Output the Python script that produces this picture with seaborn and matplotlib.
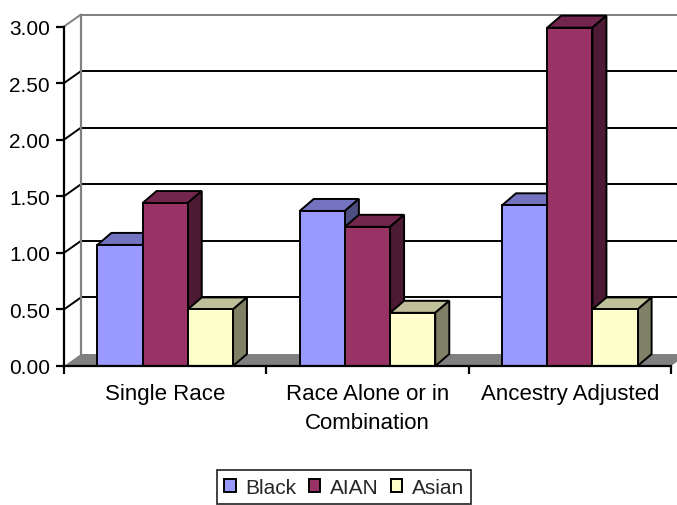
import numpy as np
import pandas as pd
import matplotlib
matplotlib.use("Agg")
import matplotlib.pyplot as plt
from matplotlib.patches import Polygon
from matplotlib.colors import to_rgb
import seaborn as sns

# ---- data -------------------------------------------------------------
categories = ["Single Race", "Race Alone or in Combination", "Ancestry Adjusted"]
tick_labels = ["Single Race", "Race Alone or in\nCombination", "Ancestry Adjusted"]
groups = ["Black", "AIAN", "Asian"]
black = [1.07, 1.37, 1.42]
aian = [1.44, 1.23, 2.99]
asian = [0.50, 0.47, 0.50]
y_ticks = [0.0, 0.5, 1.0, 1.5, 2.0, 2.5, 3.0]

palette = {"Black": "#9999FF", "AIAN": "#993366", "Asian": "#FFFFCC"}

df = pd.DataFrame({
    "Measure": np.repeat(categories, len(groups)),
    "Group": groups * len(categories),
    "Ratio": np.column_stack([black, aian, asian]).ravel(),
})

# ---- figure -----------------------------------------------------------
sns.set_theme(style="white")
plt.rcParams["font.family"] = ["Liberation Sans", "DejaVu Sans"]
FS = 15
FS_CAT = 16

W, H = 677, 506
fig = plt.figure(figsize=(W / 100, H / 100), dpi=100)
ax = fig.add_axes([64 / W, 1 - 367 / H, 607 / W, 339.5 / H])

sns.barplot(data=df, x="Measure", y="Ratio", hue="Group", order=categories,
            hue_order=groups, palette=palette, width=0.67, saturation=1,
            edgecolor="black", linewidth=1.4, ax=ax)

ax.set_xlim(-0.5, 2.5)
ax.set_ylim(0, 3.0)
ax.set_xlabel("")
ax.set_ylabel("")

# pixel -> data conversion for the oblique depth offsets
px_x = 607 / 3.0
px_y = 339.5 / 3.0
wall_dx, wall_dy = 17 / px_x, 12 / px_y
bar_dx, bar_dy = 14 / px_x, 12 / px_y

# floor
floor = Polygon([(-0.5, 0), (2.5, 0), (2.5 + wall_dx, wall_dy), (-0.5 + wall_dx, wall_dy)],
                closed=True, facecolor="#808080", edgecolor="none", zorder=1, clip_on=False)
ax.add_patch(floor)

# back-wall gridlines and side-wall diagonals
for v in y_ticks[1:]:
    col = "#808080" if v == y_ticks[-1] else "black"
    ax.plot([-0.5 + wall_dx, 2.5 + wall_dx], [v + wall_dy, v + wall_dy],
            color=col, lw=1.4, zorder=2, clip_on=False, solid_capstyle="butt")
    ax.plot([-0.5, -0.5 + wall_dx], [v, v + wall_dy],
            color=col, lw=1.4, zorder=2, clip_on=False)
# left wall back edge
ax.plot([-0.5 + wall_dx, -0.5 + wall_dx], [wall_dy, 3.0 + wall_dy],
        color="#808080", lw=1.6, zorder=2, clip_on=False)

# oblique top and side faces for every bar
bars = [p for c in ax.containers for p in c]
bars.sort(key=lambda p: p.get_x())
for i, p in enumerate(bars):
    x0, w, h = p.get_x(), p.get_width(), p.get_height()
    rgb = np.array(to_rgb(p.get_facecolor()))
    base = 10 + 3 * i
    top = Polygon([(x0, h), (x0 + w, h), (x0 + w + bar_dx, h + bar_dy), (x0 + bar_dx, h + bar_dy)],
                  closed=True, facecolor=rgb * 0.75, edgecolor="black", lw=1.4,
                  zorder=base, clip_on=False, joinstyle="miter")
    side = Polygon([(x0 + w, 0), (x0 + w, h), (x0 + w + bar_dx, h + bar_dy), (x0 + w + bar_dx, bar_dy)],
                   closed=True, facecolor=rgb * 0.5, edgecolor="black", lw=1.4,
                   zorder=base + 1, clip_on=False, joinstyle="miter")
    ax.add_patch(top)
    ax.add_patch(side)
    p.set_zorder(base + 2)
    p.set_clip_on(False)

# axes styling
for s in ["top", "right"]:
    ax.spines[s].set_visible(False)
for s in ["left", "bottom"]:
    ax.spines[s].set_color("black")
    ax.spines[s].set_linewidth(1.6)
    ax.spines[s].set_zorder(50)

ax.set_yticks(y_ticks)
ax.set_yticklabels([f"{v:.2f}" for v in y_ticks], fontsize=FS, color="black")
ax.tick_params(axis="y", which="major", left=True, length=6, width=1.6, color="black",
               pad=4, direction="out")

ax.set_xticks([0, 1, 2])
ax.set_xticklabels(tick_labels, fontsize=FS_CAT, color="black", linespacing=1.52)
ax.set_xticks([-0.5, 0.5, 1.5, 2.5], minor=True)
ax.tick_params(axis="x", which="major", bottom=False, length=0, pad=12)
ax.tick_params(axis="x", which="minor", bottom=True, length=6, width=1.6,
               color="black", direction="out")

# legend
handles, labels = ax.get_legend_handles_labels()
if ax.get_legend() is not None:
    ax.get_legend().remove()
leg = fig.legend(handles, labels, loc="lower center", bbox_to_anchor=(344 / W, 0.002),
                 ncol=3, fontsize=FS, frameon=True, fancybox=False, shadow=False,
                 handlelength=0.55, handleheight=0.55, handletextpad=0.45,
                 columnspacing=0.6, borderpad=0.35, borderaxespad=0)
leg.get_frame().set_edgecolor("black")
leg.get_frame().set_linewidth(1.3)
leg.get_frame().set_facecolor("white")

fig.savefig("out.png", dpi=100, facecolor="white")
